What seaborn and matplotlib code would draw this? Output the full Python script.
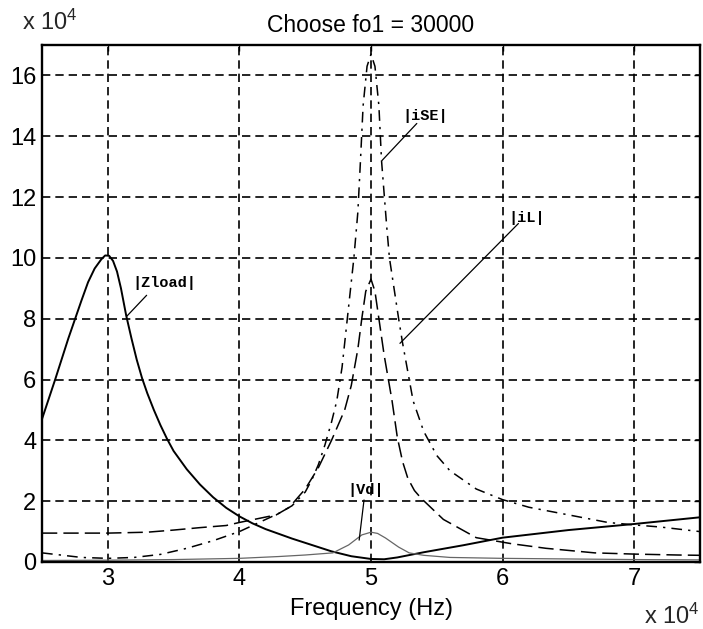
import numpy as np
import pandas as pd
import matplotlib
matplotlib.use("Agg")
import matplotlib.pyplot as plt
from matplotlib.ticker import FuncFormatter
import seaborn as sns

# dados (frequencia em Hz, valores reais)
f_zload = [25000, 26000, 27000, 28000, 28500, 29000, 29500, 29800, 30100, 30400, 30700,
           31000, 31400, 31800, 32200, 32600, 33000, 33500, 34000, 34500, 35000, 36000,
           37000, 38000, 39000, 40000, 41000, 42000, 44000, 45000, 46000, 47000, 48500,
           50000, 51000, 52000, 54000, 57000, 60000, 65000, 70000, 75000]
zload = [47000, 60000, 73500, 86000, 92000, 96500, 99500, 100800, 100700, 99000, 95500,
         90000, 81000, 73500, 66500, 60500, 55500, 50000, 45000, 40500, 36500, 30500,
         25500, 21300, 17800, 15000, 12700, 10800, 7700, 6300, 4900, 3500, 1900,
         1000, 900, 1500, 3200, 5500, 8000, 10500, 12500, 14700]

f_ise = [25000, 26000, 28000, 30000, 32000, 34000, 36000, 38000, 40000, 41000, 42000, 43000,
         44000, 45000, 45500, 46000, 46500, 47000, 47400, 47800, 48200, 48700, 49000,
         49200, 49400, 49700, 50000, 50300, 50600, 50800, 51200, 51400, 52100, 52400,
         53200, 54000, 55000, 56000, 58000, 60000, 62000, 65000, 68000, 70000, 72000, 75000]
ise = [3000, 2500, 1500, 1200, 1500, 2500, 4500, 7000, 10000, 12000, 14000, 16000,
       18500, 23000, 27000, 32000, 38500, 46000, 53000, 64000, 80000, 100000, 115000,
       132000, 150000, 163000, 167000, 163000, 150000, 132000, 110000, 100000, 80000, 72000,
       53000, 43000, 35000, 30000, 24000, 20500, 18000, 15500, 13000, 12200, 11500, 10000]

f_il = [25000, 30000, 33000, 35000, 37000, 39000, 40000, 42800, 43800, 45000, 46000, 47000,
        48000, 48500, 49000, 49300, 49600, 50000, 50300, 50600, 51000, 51600, 52000, 52400,
        52800, 53300, 53800, 55500, 58000, 60700, 63300, 67000, 70000, 73300, 75000]
il = [9500, 9500, 9800, 10500, 11300, 12000, 13000, 15500, 18000, 24000, 31000, 40000,
      50000, 58000, 70000, 80000, 89000, 93000, 89000, 80000, 68000, 53000, 41000, 33000,
      27500, 23500, 21000, 14000, 8000, 6000, 4500, 3000, 2600, 2300, 2200]

f_vd = [25000, 30000, 35000, 40000, 43000, 45000, 47100, 48300, 49300, 50000, 50500,
        51100, 52100, 52900, 54000, 56000, 60000, 65000, 70000, 75000]
vd = [500, 600, 800, 1200, 1800, 2300, 3000, 5600, 8900, 9800, 9400,
      7900, 4900, 3000, 2200, 1500, 1200, 1000, 800, 700]

# rotulos das curvas: (texto, posicao do texto, inicio e ponta do traco) em coordenadas de dados
rotulos = [
    ("|Zload|", (31900, 91800), (32950, 87700), (31440, 80800)),
    ("|iSE|", (52350, 146500), (53480, 144200), (50830, 132000)),
    ("|iL|", (60450, 113200), (61200, 111300), (52200, 71900)),
    ("|Vd|", (48180, 23700), (49470, 20400), (49100, 7200)),
]

sns.set_theme(style="white")
plt.rcParams["font.family"] = ["Liberation Sans", "DejaVu Sans"]
plt.rcParams["mathtext.default"] = "regular"

fig = plt.figure(figsize=(7.03, 6.29), dpi=100)
ax = fig.add_axes([42 / 703, 67 / 629, 658 / 703, 517 / 629])

sns.lineplot(x=f_zload, y=zload, ax=ax, color="black", linewidth=1.4, errorbar=None)
sns.lineplot(x=f_ise, y=ise, ax=ax, color="black", linewidth=1.1, errorbar=None,
             linestyle=(0, (7, 4, 1.5, 4)))
sns.lineplot(x=f_il, y=il, ax=ax, color="black", linewidth=1.1, errorbar=None,
             linestyle=(0, (10, 4)))
sns.lineplot(x=f_vd, y=vd, ax=ax, color="0.4", linewidth=0.9, errorbar=None)

ax.set_xlim(25000, 75000)
ax.set_ylim(0, 170000)
ax.set_xticks([30000, 40000, 50000, 60000, 70000])
ax.set_yticks(np.arange(0, 170000, 20000))
ax.xaxis.set_major_formatter(FuncFormatter(lambda v, p: f"{v / 1e4:g}"))
ax.yaxis.set_major_formatter(FuncFormatter(lambda v, p: f"{v / 1e4:g}"))
ax.grid(True, color="black", linestyle=(0, (5, 3)), linewidth=1.2)
ax.tick_params(direction="in", length=4, width=1, colors="black", labelsize=17,
               top=True, right=True, pad=4)
for s in ax.spines.values():
    s.set_color("black")
    s.set_linewidth(1.7)

ax.set_title("Choose fo1 = 30000", fontsize=16.5, pad=9, color="black")
ax.set_xlabel("Frequency (Hz)", fontsize=17, labelpad=6, color="black")
fig.text(22 / 703, 1 - 30 / 629, "x 10$^4$", fontsize=17, ha="left", va="baseline")
fig.text(700 / 703, 1 - 624 / 629, "x 10$^4$", fontsize=17, ha="right", va="baseline")

for txt, pos, p0, p1 in rotulos:
    ax.text(pos[0], pos[1], txt, fontsize=11, family="Liberation Mono", fontweight="bold",
            va="center", ha="left", color="black")
    ax.plot([p0[0], p1[0]], [p0[1], p1[1]], color="black", linewidth=0.9)

plt.savefig("out.png", dpi=100)
